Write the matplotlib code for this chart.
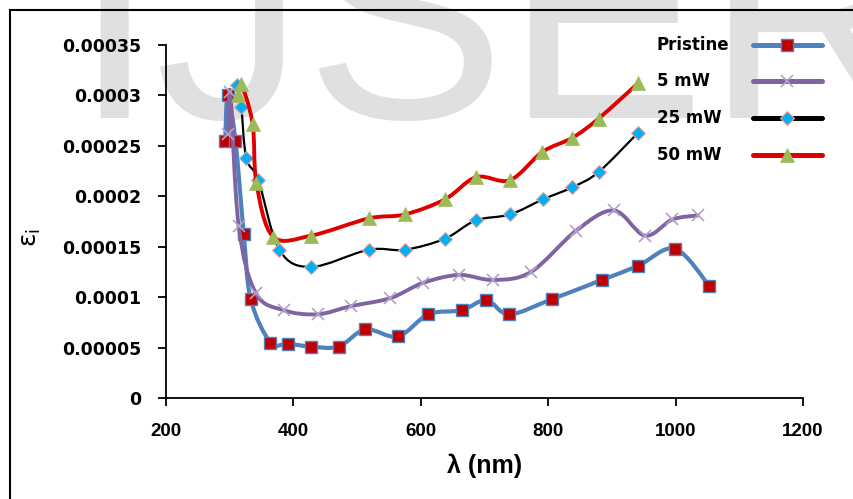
import numpy as np
import matplotlib
matplotlib.use('Agg')
import matplotlib.pyplot as plt
from matplotlib.path import Path
from matplotlib.patches import PathPatch
from matplotlib.lines import Line2D

# wavelength (nm) and eps_i values
lam_pristine = [293, 297, 309, 322, 333, 364, 391, 427, 471, 513, 564, 612,
                664, 703, 739, 806, 884, 941, 999, 1053]
eps_pristine = [0.000255, 0.000300, 0.000255, 0.000163, 0.000098, 0.000055,
                0.000054, 0.000051, 0.000051, 0.000068, 0.000061, 0.000083,
                0.000087, 0.000097, 0.000083, 0.000098, 0.000117, 0.000131,
                0.000148, 0.000111]

lam_5mw = [298, 301, 314, 341, 385, 438, 490, 552, 603, 660, 714, 773,
           844, 903, 952, 995, 1035]
eps_5mw = [0.000262, 0.000303, 0.000171, 0.000104, 0.000087, 0.000083,
           0.000091, 0.000099, 0.000114, 0.000122, 0.000117, 0.000125,
           0.000166, 0.000186, 0.000161, 0.000177, 0.000181]

lam_25mw = [311, 318, 326, 345, 378, 428, 518, 575, 638, 686, 740, 792,
            838, 879, 941]
eps_25mw = [0.000310, 0.000289, 0.000238, 0.000216, 0.000147, 0.000130,
            0.000147, 0.000147, 0.000158, 0.000176, 0.000182, 0.000197,
            0.000209, 0.000224, 0.000263]

lam_50mw = [313, 318, 336, 342, 368, 428, 518, 575, 638, 687, 740, 791,
            838, 879, 941]
eps_50mw = [0.000300, 0.000311, 0.000272, 0.000213, 0.000160, 0.000161,
            0.000178, 0.000182, 0.000197, 0.000219, 0.000216, 0.000244,
            0.000258, 0.000277, 0.000312]

labels = ['Pristine', '5 mW', '25 mW', '50 mW']
xticks = [200, 400, 600, 800, 1000, 1200]
yticks = [0, 0.00005, 0.0001, 0.00015, 0.0002, 0.00025, 0.0003, 0.00035]
ytick_labels = ['0', '0.00005', '0.0001', '0.00015', '0.0002', '0.00025',
                '0.0003', '0.00035']


def smooth_path(x, y):
    # excel style smoothed line: catmull-rom as cubic bezier segments
    pts = np.column_stack([x, y]).astype(float)
    n = len(pts)
    verts = [pts[0]]
    codes = [Path.MOVETO]
    for i in range(n - 1):
        p0 = pts[max(i - 1, 0)]
        p1 = pts[i]
        p2 = pts[i + 1]
        p3 = pts[min(i + 2, n - 1)]
        verts += [p1 + (p2 - p0) / 6, p2 - (p3 - p1) / 6, p2]
        codes += [Path.CURVE4] * 3
    return Path(verts, codes)


fig = plt.figure(figsize=(8.54, 4.99), dpi=100)
fig.patch.set_facecolor('white')

# faint watermark behind the chart
fig.text(72 / 854, 1 - 118 / 499, 'IJSER', fontsize=216, family='Liberation Sans',
         color='#E0E0E0', ha='left', va='baseline', zorder=-5)

ax = fig.add_axes([166 / 854, 101 / 499, 637 / 854, 353 / 499])
ax.patch.set_alpha(0)

series = [
    (lam_pristine, eps_pristine, '#4F81BD', 3.0, dict(marker='s', ms=8.5, mfc='#C00000', mec='#4F81BD', mew=1.0)),
    (lam_5mw, eps_5mw, '#8064A2', 2.8, dict(marker='x', ms=9, mec='#B3A2C7', mew=1.2)),
    (lam_25mw, eps_25mw, '#000000', 1.6, dict(marker='D', ms=7, mfc='#00B0F0', mec='#F2A0A0', mew=0.8)),
    (lam_50mw, eps_50mw, '#E00000', 2.8, dict(marker='^', ms=10, mfc='#9BBB59', mec='#9BBB59', mew=0.5)),
]

handles = []
for i, (x, y, col, lw, mk) in enumerate(series):
    ax.add_patch(PathPatch(smooth_path(x, y), fill=False, edgecolor=col, lw=lw,
                           capstyle='round', joinstyle='round', zorder=2 + 2 * i))
    ax.plot(x, y, ls='none', zorder=3 + 2 * i, **mk)
    handles.append(Line2D([], [], color=col, lw=3.6, solid_capstyle='round', **mk))

ax.set_xlim(200, 1200)
ax.set_ylim(0, 0.00035)
ax.set_xticks(xticks)
ax.set_yticks(yticks)
ax.set_yticklabels(ytick_labels)

for s in ['top', 'right']:
    ax.spines[s].set_visible(False)
for s in ['left', 'bottom']:
    ax.spines[s].set_linewidth(1.3)

ax.tick_params(axis='both', direction='out', length=6, width=1.3)
ax.tick_params(axis='y', pad=12)
ax.tick_params(axis='x', pad=12)
for t in ax.get_yticklabels():
    t.set_fontsize(12.5)
    t.set_fontweight('bold')
for t in ax.get_xticklabels():
    t.set_fontsize(13.5)
    t.set_fontweight('bold')
    t.set_family('Liberation Sans')

ax.set_xlabel('λ (nm)', fontsize=18, fontweight='bold', family='Liberation Sans', labelpad=10)
ax.set_ylabel('ε$_\\mathregular{i}$', fontsize=18)
ax.yaxis.set_label_coords(-0.193, 0.455)

# legend: handles on the right, labels left aligned in a column
leg = fig.legend(handles, [''] * len(labels), loc='upper left',
                 bbox_to_anchor=(745 / 854, 1 - 28 / 499),
                 frameon=False, markerfirst=False, prop=dict(weight='bold', size=12),
                 labelspacing=1.12, handlelength=4.1, handletextpad=0, borderpad=0)
fig.canvas.draw()
H = fig.bbox.height
for lab, h in zip(labels, leg.legend_handles):
    bb = h.get_window_extent(fig.canvas.get_renderer())
    fig.text(657 / 854, (bb.y0 + bb.y1) / 2 / H, lab, fontsize=12, fontweight='bold',
             ha='left', va='center')

# chart border remains (left and top edge)
fig.add_artist(Line2D([10 / 854, 10 / 854], [0, 1 - 10 / 499], color='black', lw=1.5,
                      transform=fig.transFigure))
fig.add_artist(Line2D([10 / 854, 1], [1 - 10 / 499, 1 - 10 / 499], color='black', lw=1.5,
                      transform=fig.transFigure))

fig.savefig('out.png', dpi=100)
